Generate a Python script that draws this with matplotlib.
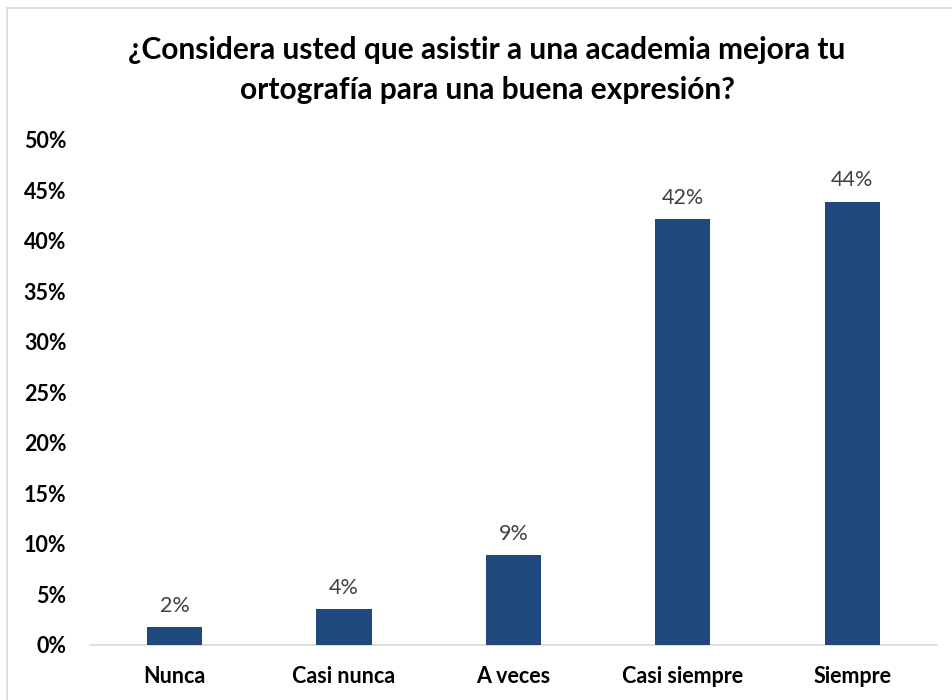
import matplotlib.pyplot as plt
from matplotlib.ticker import FuncFormatter, MultipleLocator
from matplotlib.patches import Rectangle

categories = ["Nunca", "Casi nunca", "A veces", "Casi siempre", "Siempre"]
percentages = [1.8, 3.6, 8.9, 42.2, 43.9]
title = "¿Considera usted que asistir a una academia mejora tu\nortografía para una buena expresión?"

plt.rcParams['font.family'] = ['Lato', 'DejaVu Sans']

fig = plt.figure(figsize=(9.53, 7.0), dpi=100)
ax = fig.add_axes([0.0944, 0.0786, 0.8886, 0.7214])

x = range(len(categories))
bars = ax.bar(x, percentages, width=0.325, color="#1f497d", zorder=3)

for xi, v in zip(x, percentages):
    ax.annotate(f"{v:.0f}%", (xi, v), xytext=(0, 8), textcoords="offset points",
                ha="center", va="bottom", fontsize=15.5, color="#404040")

ax.set_xlim(-0.5, len(categories) - 0.5)
ax.set_ylim(0, 50)
ax.yaxis.set_major_locator(MultipleLocator(5))
ax.yaxis.set_major_formatter(FuncFormatter(lambda v, p: f"{v:.0f}%"))
ax.set_xticks(list(x))
ax.set_xticklabels(categories)

for lbl in ax.get_xticklabels():
    lbl.set_fontweight("bold")
    lbl.set_fontsize(15.5)
    lbl.set_color("black")
for lbl in ax.get_yticklabels():
    lbl.set_fontweight("bold")
    lbl.set_fontsize(15.5)
    lbl.set_color("black")

ax.tick_params(axis="both", length=0)
ax.tick_params(axis="x", pad=15)
ax.tick_params(axis="y", pad=17)
for side in ["top", "right", "left"]:
    ax.spines[side].set_visible(False)
ax.spines["bottom"].set_color("#d9d9d9")
ax.spines["bottom"].set_linewidth(1.2)

fig.text(0.511, 0.9, title, ha="center", va="center", fontsize=21.5,
         fontweight="bold", color="black", linespacing=1.55)

# light chart-area frame
fig.patches.append(Rectangle((7.5 / 953, -0.01), 1.0, 1 - 8 / 700 + 0.01,
                             transform=fig.transFigure, fill=False,
                             edgecolor="#d9d9d9", linewidth=1.2))

fig.savefig("out.png", dpi=100)
